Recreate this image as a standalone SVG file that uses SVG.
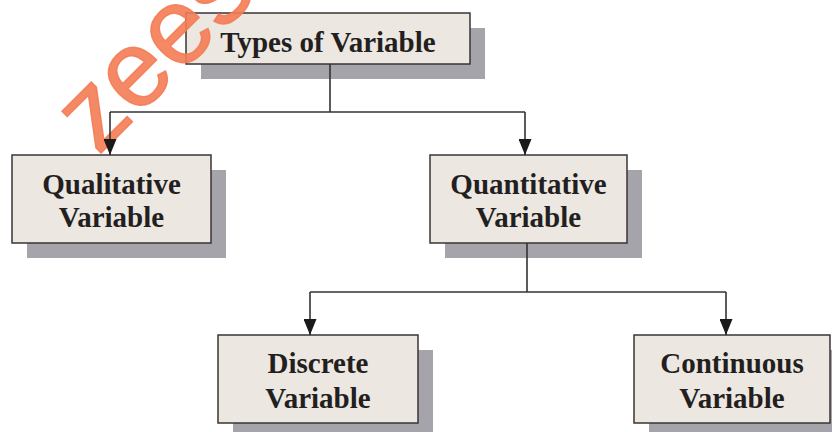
<svg xmlns="http://www.w3.org/2000/svg" width="832" height="432" viewBox="0 0 832 432">
  <defs>
    <style>
      .shadow { fill: #a4a4aa; }
      .box { fill: #ece7e0; stroke: #3a3535; stroke-width: 1.5; }
      .label { font-family: "Liberation Serif", "Times New Roman", serif; font-weight: bold; font-size: 29px; fill: #231f20; text-anchor: middle; }
      .conn { stroke: #333; stroke-width: 1.6; fill: none; }
      .wm { font-family: "Liberation Sans", Arial, sans-serif; font-size: 108px; fill: #f47c55; stroke: #f47c55; stroke-width: 1.5; fill-opacity: 0.9; stroke-opacity: 0.9; }
    </style>
    <marker id="arrow" markerWidth="16" markerHeight="13" refX="16" refY="6.5" orient="auto" markerUnits="userSpaceOnUse" viewBox="0 0 16 13">
      <path d="M0,0 L16,6.5 L0,13 Z" fill="#1a1a1a"/>
    </marker>
  </defs>
  <rect width="832" height="432" fill="#ffffff"/>

  <g id="node-types">
    <rect class="shadow" x="201" y="28" width="284" height="51"/>
    <rect class="box" x="186" y="13" width="284" height="51"/>
    <text class="label" x="328" y="52">Types of Variable</text>
  </g>

  <g id="node-qualitative">
    <rect class="shadow" x="27" y="170" width="199" height="88"/>
    <rect class="box" x="12" y="155" width="199" height="88"/>
    <text class="label" x="111.5" y="194">Qualitative</text>
    <text class="label" x="111.5" y="227">Variable</text>
  </g>

  <g id="node-quantitative">
    <rect class="shadow" x="445" y="170" width="197" height="88"/>
    <rect class="box" x="430" y="155" width="197" height="88"/>
    <text class="label" x="528.5" y="194">Quantitative</text>
    <text class="label" x="528.5" y="227">Variable</text>
  </g>

  <g id="node-discrete">
    <rect class="shadow" x="233" y="350" width="200" height="88"/>
    <rect class="box" x="218" y="335" width="200" height="88"/>
    <text class="label" x="318" y="373">Discrete</text>
    <text class="label" x="318" y="408">Variable</text>
  </g>

  <g id="node-continuous">
    <rect class="shadow" x="649" y="350" width="196" height="88"/>
    <rect class="box" x="634" y="335" width="196" height="88"/>
    <text class="label" x="732" y="373">Continuous</text>
    <text class="label" x="732" y="408">Variable</text>
  </g>

  <text class="wm" transform="translate(98,156) rotate(-45)">zees</text>

  <g id="connectors">
    <path class="conn" d="M330,64 V112"/>
    <path class="conn" d="M110,112 H525"/>
    <path class="conn" d="M110,112 V155" marker-end="url(#arrow)"/>
    <path class="conn" d="M525,112 V155" marker-end="url(#arrow)"/>
    <path class="conn" d="M527,243 V292"/>
    <path class="conn" d="M310,292 H726"/>
    <path class="conn" d="M310,292 V335" marker-end="url(#arrow)"/>
    <path class="conn" d="M726,292 V335" marker-end="url(#arrow)"/>
  </g>
</svg>
